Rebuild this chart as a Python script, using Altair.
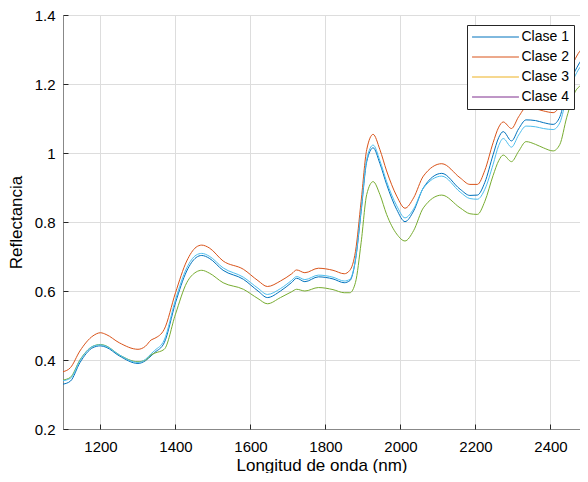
import altair as alt
import pandas as pd

wavelength = [1100, 1120, 1145, 1180, 1200, 1215, 1250, 1300, 1320, 1335, 1345, 1370,
              1400, 1430, 1455, 1470, 1490, 1527, 1581, 1620, 1645, 1680, 1710, 1723,
              1745, 1781, 1820, 1850, 1865, 1880, 1895, 1910, 1927, 1945, 1963, 1990,
              2012, 2035, 2061, 2110, 2159, 2185, 2205, 2225, 2247, 2262, 2274, 2296,
              2315, 2335, 2360, 2381, 2407, 2425, 2443, 2470, 2500]

clase1 = [0.330, 0.339, 0.392, 0.436, 0.441, 0.437, 0.412, 0.390, 0.398, 0.412, 0.422, 0.450,
          0.566, 0.658, 0.697, 0.703, 0.695, 0.660, 0.634, 0.600, 0.581, 0.600, 0.625, 0.637,
          0.627, 0.641, 0.635, 0.624, 0.630, 0.690, 0.830, 0.975, 1.015, 0.970, 0.909, 0.836,
          0.801, 0.832, 0.899, 0.941, 0.895, 0.877, 0.878, 0.915, 0.995, 1.045, 1.062, 1.035,
          1.070, 1.096, 1.094, 1.088, 1.083, 1.105, 1.180, 1.247, 1.296]

clase2 = [0.366, 0.378, 0.426, 0.470, 0.479, 0.474, 0.450, 0.431, 0.440, 0.458, 0.463, 0.489,
          0.595, 0.687, 0.727, 0.733, 0.725, 0.687, 0.663, 0.630, 0.613, 0.629, 0.650, 0.661,
          0.653, 0.666, 0.660, 0.650, 0.660, 0.715, 0.860, 1.010, 1.054, 1.010, 0.948, 0.875,
          0.840, 0.870, 0.933, 0.969, 0.928, 0.909, 0.909, 0.950, 1.030, 1.075, 1.090, 1.071,
          1.105, 1.131, 1.128, 1.122, 1.117, 1.140, 1.209, 1.281, 1.318]

clase5 = [0.342, 0.350, 0.400, 0.440, 0.445, 0.441, 0.415, 0.395, 0.400, 0.415, 0.420, 0.431,
          0.533, 0.624, 0.655, 0.660, 0.652, 0.624, 0.605, 0.578, 0.563, 0.581, 0.598, 0.605,
          0.600, 0.610, 0.604, 0.595, 0.595, 0.625, 0.740, 0.880, 0.917, 0.880, 0.822, 0.765,
          0.745, 0.775, 0.841, 0.878, 0.841, 0.824, 0.822, 0.860, 0.935, 0.978, 0.994, 0.975,
          1.005, 1.033, 1.025, 1.015, 1.006, 1.025, 1.102, 1.185, 1.205]

clase6 = [0.340, 0.347, 0.398, 0.440, 0.444, 0.440, 0.415, 0.393, 0.402, 0.418, 0.428, 0.458,
          0.575, 0.667, 0.704, 0.709, 0.701, 0.667, 0.640, 0.608, 0.590, 0.607, 0.631, 0.642,
          0.633, 0.646, 0.640, 0.629, 0.634, 0.692, 0.835, 0.982, 1.023, 0.978, 0.917, 0.847,
          0.812, 0.838, 0.898, 0.933, 0.887, 0.868, 0.866, 0.895, 0.967, 1.022, 1.042, 1.017,
          1.052, 1.078, 1.076, 1.071, 1.068, 1.088, 1.160, 1.233, 1.272]

class_names = ["Clase 1", "Clase 2", "Clase 3", "Clase 4", "Clase 5", "Clase 6"]
class_colors = ["#0072BD", "#D95319", "#EDB120", "#7E2F8E", "#77AC30", "#4DBEEE"]
legend_names = ["Clase 1", "Clase 2", "Clase 3", "Clase 4"]
x_ticks = [1200, 1400, 1600, 1800, 2000, 2200, 2400]
y_ticks = [0.2, 0.4, 0.6, 0.8, 1.0, 1.2, 1.4]

series = {"Clase 1": clase1, "Clase 2": clase2, "Clase 5": clase5, "Clase 6": clase6}
rows = []
for name, vals in series.items():
    for w, v in zip(wavelength, vals):
        rows.append({"wl": w, "val": v, "clase": name, "order": class_names.index(name)})
df = pd.DataFrame(rows)

FONT = "Liberation Sans"
TXT = "#262626"

# the reference axes run off the right edge of the picture (cut at ~2479 nm)
xscale = alt.Scale(domain=[1100, 2478.7], nice=False, zero=False)
yscale = alt.Scale(domain=[0.2, 1.4], nice=False, zero=False)

lines = alt.Chart(df).mark_line(strokeWidth=1, interpolate="monotone", clip=True).encode(
    x=alt.X("wl:Q", scale=xscale, title="Longitud de onda (nm)",
            axis=alt.Axis(values=x_ticks, orient="bottom", grid=True, domain=True, format="d",
                          tickSize=0, ticks=False, labelPadding=10, titlePadding=3,
                          labelFontSize=15, titleFontSize=17, labelFlush=False,
                          titleFontWeight="normal")),
    y=alt.Y("val:Q", scale=yscale, title="Reflectancia",
            axis=alt.Axis(values=y_ticks, orient="left", format=".1~f", grid=True, domain=True,
                          tickSize=0, ticks=False, labelPadding=8, titlePadding=9,
                          labelFontSize=15, titleFontSize=17, labelFlush=False,
                          titleFontWeight="normal")),
    color=alt.Color("clase:N",
                    scale=alt.Scale(domain=class_names, range=class_colors),
                    legend=alt.Legend(values=legend_names, title=None, orient="none",
                                      legendX=404, legendY=10,
                                      symbolType="M-5,0H5", symbolSize=88,
                                      symbolStrokeWidth=1, symbolOffset=16.5,
                                      labelOffset=19, labelFontSize=14, labelFont=FONT,
                                      labelColor="#000000", rowPadding=6, padding=5,
                                      strokeColor="#262626", fillColor="white",
                                      cornerRadius=0)),
    order=alt.Order("order:Q"),
)

inner_ticks = alt.Chart(df).mark_line(strokeOpacity=0, clip=True).encode(
    x=alt.X("wl:Q", scale=xscale,
            axis=alt.Axis(orient="top", offset=-414, values=x_ticks,
                          labels=False, domain=False, grid=False, ticks=True, tickSize=5,
                          tickColor=TXT, title=None)),
    y=alt.Y("val:Q", scale=yscale,
            axis=alt.Axis(orient="right", offset=-517, values=y_ticks,
                          labels=False, domain=False, grid=False, ticks=True, tickSize=5,
                          tickColor=TXT, title=None)),
    detail="clase:N",
)

chart = alt.layer(lines, inner_ticks).resolve_axis(
    x="independent", y="independent"
).properties(
    width=517, height=414,
    autosize=alt.AutoSizeParams(type="none"),
    padding={"left": 55, "top": 7, "right": 0, "bottom": 44},
).configure_view(stroke=None).configure_axis(
    labelFont=FONT, titleFont=FONT, labelColor=TXT, titleColor=TXT,
    domainColor=TXT, domainWidth=1, gridColor="#e3e3e3", gridWidth=1,
    titleFontWeight="normal", labelFontWeight="normal",
).configure(background="white")

chart.save("out.html", embed_options={"renderer": "svg", "actions": False})
